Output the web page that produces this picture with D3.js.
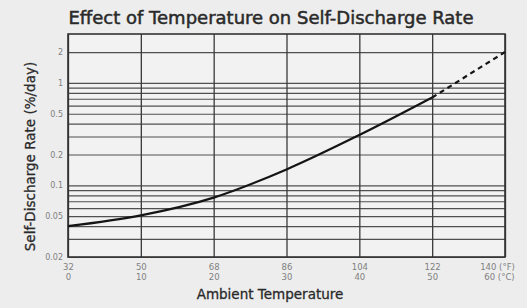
<!doctype html>
<html lang="en">
<head>
<meta charset="UTF-8">
<title>Self-Discharge Rate</title>
<script src="https://cdnjs.cloudflare.com/ajax/libs/d3/7.8.5/d3.min.js"></script>
<style>
    html, body { margin: 0; padding: 0; background: #ededed; }
    svg { display: block; }
    text { font-family: "DejaVu Sans", "Liberation Sans", sans-serif; }
</style>
</head>
<body>
<svg id="chart" width="527" height="308"></svg>
<script>

    // temperature in degC and self-discharge rate in %/day
    var tempC = [0, 10, 20, 30, 40, 50];
    var rate = [0.040, 0.051, 0.076, 0.143, 0.31, 0.72];
    var dashTempC = [50, 55, 60];
    var dashRate = [0.72, 1.2, 2.0];

    var xTicksC = [0, 10, 20, 30, 40, 50, 60];
    var xTicksF = [32, 50, 68, 86, 104, 122, 140];
    var yGrid = [0.02, 0.03, 0.04, 0.05, 0.06, 0.07, 0.08, 0.09, 0.1, 0.2, 0.3, 0.4, 0.5, 0.6, 0.7, 0.8, 0.9, 1, 2];
    var yLabels = [0.02, 0.05, 0.1, 0.2, 0.5, 1, 2];

    var margin = {top: 34, right: 22, bottom: 51, left: 68};
    var W = 527, H = 308;
    var width = W - margin.left - margin.right;
    var height = H - margin.top - margin.bottom;

    var svg = d3.select('#chart');

    var g = svg.append('g')
            .attr('transform', 'translate(' + margin.left + ',' + margin.top + ')');

    var x = d3.scaleLinear().domain([0, 60]).range([0, width]);
    var y = d3.scaleLog().domain([0.02, 3]).range([height, 0]);

    g.append('rect')
            .attr('width', width)
            .attr('height', height)
            .attr('fill', '#f2f2f2');

    // horizontal grid
    var yAxis = g.append('g')
            .call(d3.axisLeft(y)
                    .tickValues(yGrid)
                    .tickSize(-width)
                    .tickFormat(function (d) {
                        return yLabels.indexOf(d) >= 0 ? d3.format('')(d) : '';
                    }));
    yAxis.select('.domain').remove();
    yAxis.selectAll('line').attr('stroke', '#505050').attr('stroke-width', 1.2);
    yAxis.selectAll('text')
            .attr('x', -5)
            .attr('fill', '#808080')
            .attr('font-size', 8);

    // vertical grid
    var xAxis = g.append('g')
            .attr('transform', 'translate(0,' + height + ')')
            .call(d3.axisBottom(x)
                    .tickValues(xTicksC)
                    .tickSize(-height)
                    .tickFormat(''));
    xAxis.select('.domain').remove();
    xAxis.selectAll('line').attr('stroke', '#3a3a3a').attr('stroke-width', 1.3);

    xAxis.selectAll('.tick').each(function (d, i) {
        var t = d3.select(this).append('text')
                .attr('fill', '#808080')
                .attr('font-size', 8.5)
                .attr('text-anchor', 'middle');
        var last = i === xTicksC.length - 1;
        t.append('tspan')
                .attr('x', last ? -8 : 0)
                .attr('y', 13)
                .text(xTicksF[i] + (last ? ' (°F)' : ''));
        t.append('tspan')
                .attr('x', last ? -6 : 0)
                .attr('y', 23)
                .text(d + (last ? ' (°C)' : ''));
    });

    // frame
    g.append('rect')
            .attr('width', width)
            .attr('height', height)
            .attr('fill', 'none')
            .attr('stroke', '#333')
            .attr('stroke-width', 1.6);

    var line = d3.line()
            .x(function (d) { return x(d[0]); })
            .y(function (d) { return y(d[1]); })
            .curve(d3.curveMonotoneX);

    g.append('path')
            .datum(d3.zip(tempC, rate))
            .attr('d', line)
            .attr('fill', 'none')
            .attr('stroke', '#151515')
            .attr('stroke-width', 2.2);

    g.append('path')
            .datum(d3.zip(dashTempC, dashRate))
            .attr('d', line)
            .attr('fill', 'none')
            .attr('stroke', '#151515')
            .attr('stroke-width', 2.2)
            .attr('stroke-dasharray', '5,4');

    // titles
    svg.append('text')
            .attr('x', 271)
            .attr('y', 24)
            .attr('text-anchor', 'middle')
            .attr('font-size', 18)
            .attr('fill', '#2a2a2a')
            .attr('stroke', '#2a2a2a')
            .attr('stroke-width', 0.5)
            .text('Effect of Temperature on Self-Discharge Rate');

    svg.append('text')
            .attr('transform', 'translate(35,' + (margin.top + height / 2 + 11) + ') rotate(-90)')
            .attr('text-anchor', 'middle')
            .attr('font-size', 13.5)
            .attr('fill', '#2a2a2a')
            .attr('stroke', '#2a2a2a')
            .attr('stroke-width', 0.3)
            .text('Self-Discharge Rate (%/day)');

    svg.append('text')
            .attr('x', 270)
            .attr('y', 299)
            .attr('text-anchor', 'middle')
            .attr('font-size', 13.5)
            .attr('fill', '#2a2a2a')
            .attr('stroke', '#2a2a2a')
            .attr('stroke-width', 0.3)
            .text('Ambient Temperature');

</script>
</body>
</html>
